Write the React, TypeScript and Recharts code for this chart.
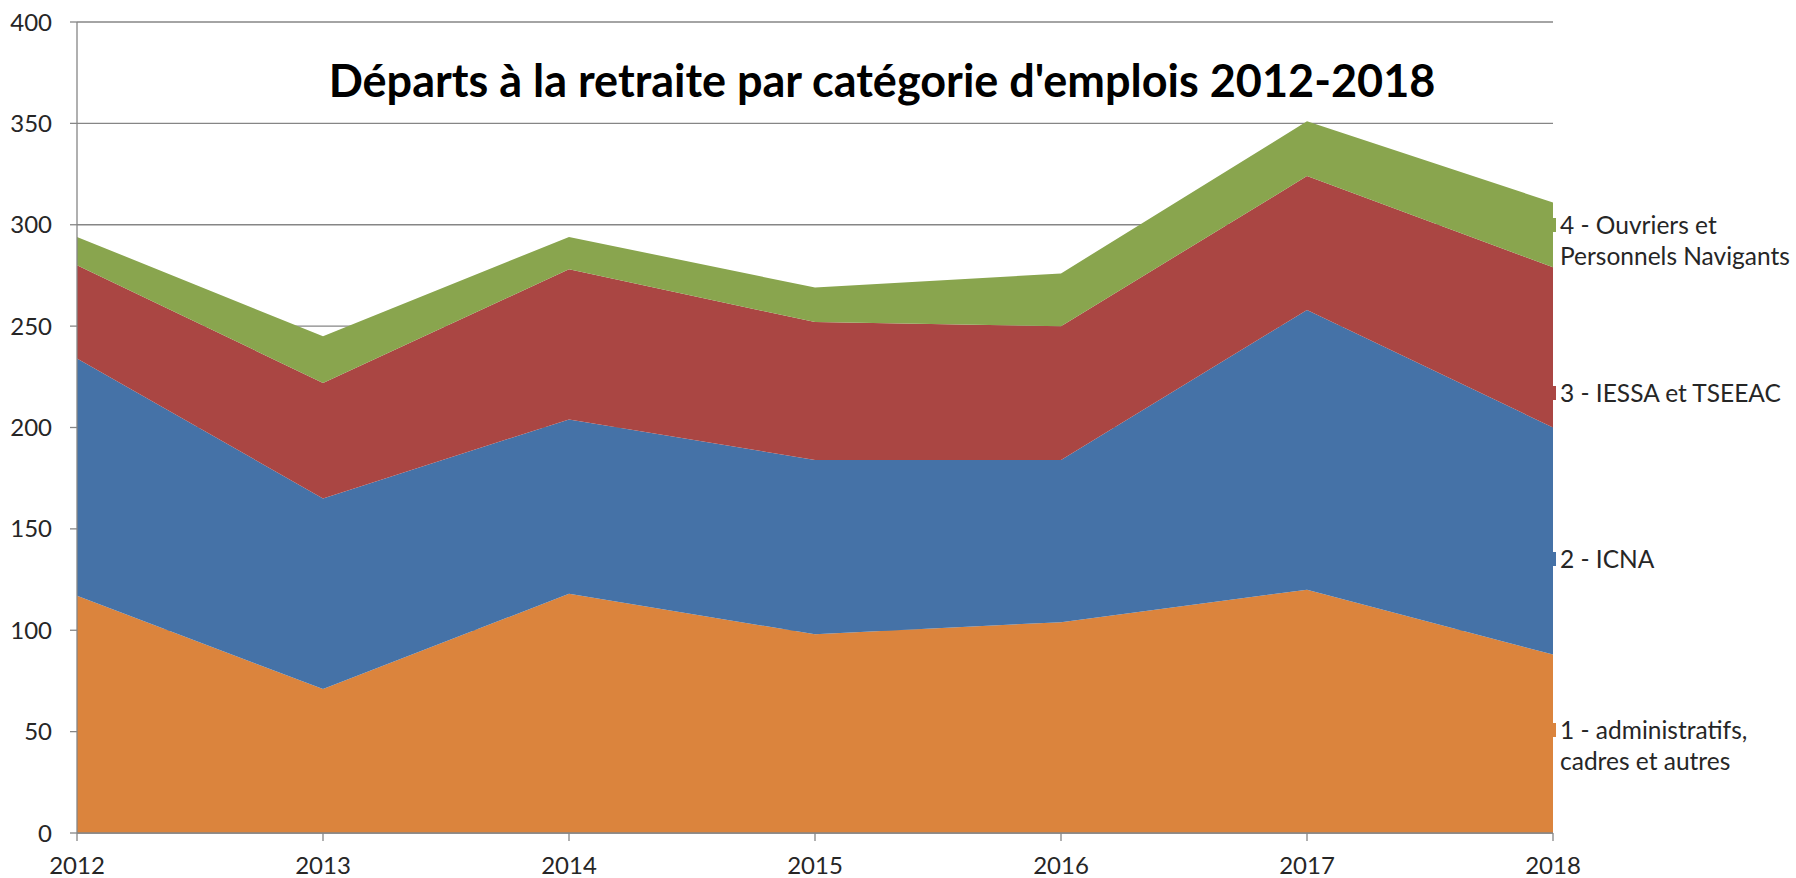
import React from "react";
import {
  AreaChart,
  Area,
  XAxis,
  YAxis,
  CartesianGrid,
} from "recharts";

// Years on the x axis
const years = ["2012", "2013", "2014", "2015", "2016", "2017", "2018"];

// Departures per category (stacked in this order)
const administratifs = [117, 71, 118, 98, 104, 120, 88];
const icna = [117, 94, 86, 86, 80, 138, 112];
const iessa = [46, 57, 74, 68, 66, 66, 79];
const ouvriers = [14, 23, 16, 17, 26, 27, 32];

const yTicks = [0, 50, 100, 150, 200, 250, 300, 350, 400];

const seriesNames = [
  "1 - administratifs, cadres et autres",
  "2 - ICNA",
  "3 - IESSA et TSEEAC",
  "4 - Ouvriers et Personnels Navigants",
];

// label lines as they wrap in the original
const labelLines = [
  ["1 - administratifs,", "cadres et autres"],
  ["2 - ICNA"],
  ["3 - IESSA et TSEEAC"],
  ["4 - Ouvriers et", "Personnels Navigants"],
];

const COLORS = ["#DB843D", "#4572A7", "#AA4643", "#89A54E"];
const AXIS = "#868686";
const FONT = "Lato, 'Open Sans', sans-serif";

// vertical placement of the series names on the right
const labelTops = [714, 543, 377, 209];

const data = years.map((y, i) => ({
  year: y,
  a: administratifs[i],
  b: icna[i],
  c: iessa[i],
  d: ouvriers[i],
}));

const keys = ["a", "b", "c", "d"];

export default function App() {
  return (
    <div
      style={{
        position: "absolute",
        left: 0,
        top: 0,
        width: 1796,
        height: 878,
        background: "#fff",
      }}
    >
      <AreaChart
        width={1796}
        height={878}
        data={data}
        margin={{ top: 22, right: 243, bottom: 0, left: 0 }}
      >
        <CartesianGrid vertical={false} stroke={AXIS} strokeWidth={1.3} />
        <XAxis
          dataKey="year"
          height={45}
          stroke={AXIS}
          strokeWidth={1.3}
          tickSize={8}
          tickMargin={16}
          tick={{ fill: "#262626", fontSize: 24, fontFamily: FONT }}
          interval={0}
        />
        <YAxis
          width={77}
          domain={[0, 400]}
          ticks={yTicks}
          stroke={AXIS}
          strokeWidth={1.3}
          tickSize={7}
          tickMargin={18}
          tick={{ fill: "#262626", fontSize: 24, fontFamily: FONT }}
          interval={0}
        />
        {keys.map((k, i) => (
          <Area
            key={k}
            dataKey={k}
            name={seriesNames[i]}
            stackId="1"
            type="linear"
            stroke="none"
            fill={COLORS[i]}
            fillOpacity={1}
            isAnimationActive={false}
          />
        ))}
      </AreaChart>

      {/* series names at the right edge */}
      {labelLines.map((lines, i) => (
        <div
          key={seriesNames[i]}
          style={{
            position: "absolute",
            left: 1553,
            top: labelTops[i],
            display: "flex",
            alignItems: "flex-start",
          }}
        >
          <div
            style={{
              width: 3,
              height: 14,
              marginTop: 9,
              background: COLORS[i],
            }}
          />
          <div
            style={{
              marginLeft: 4,
              fontFamily: FONT,
              fontSize: 24.5,
              lineHeight: "31px",
              color: "#262626",
              whiteSpace: "nowrap",
            }}
          >
            {lines.map((l) => (
              <div key={l}>{l}</div>
            ))}
          </div>
        </div>
      ))}

      <div
        style={{
          position: "absolute",
          left: 0,
          top: 54,
          width: 1764,
          textAlign: "center",
          fontFamily: FONT,
          fontWeight: 700,
          fontSize: 45,
          lineHeight: "52px",
          color: "#000",
        }}
      >
        Départs à la retraite par catégorie d'emplois 2012-2018
      </div>
    </div>
  );
}
